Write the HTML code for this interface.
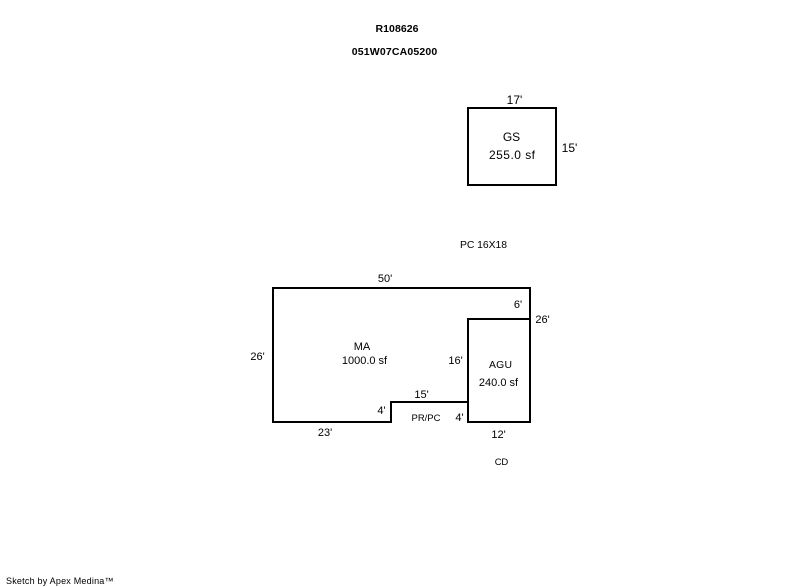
<!DOCTYPE html>
<html>
<head>
<meta charset="utf-8">
<style>
html,body{margin:0;padding:0;background:#fff;width:800px;height:587px;overflow:hidden}
svg{display:block}
text{font-family:"Liberation Sans",Arial,sans-serif;font-size:11px;fill:#000}
.b{font-weight:bold;font-size:10.5px}
.g{font-size:12px}
.m{font-size:10.400px}
.p{font-size:9.500px}
.s{font-size:9px}
.l{fill:none;stroke:#000;stroke-width:2;shape-rendering:crispEdges}
</style>
</head>
<body>
<svg width="800" height="587" viewBox="0 0 800 587" xmlns="http://www.w3.org/2000/svg">
<rect class="l" x="468" y="108" width="88" height="77"/>
<path class="l" d="M468 402H391V422H273V288H530V422H468V319H530"/>
<text class="b" x="397" y="32" text-anchor="middle" textLength="43">R108626</text>
<text class="b" x="394.500" y="55" text-anchor="middle" textLength="85.500">051W07CA05200</text>
<text class="g" x="514.500" y="104" text-anchor="middle">17'</text>
<text class="g" x="511.500" y="141" text-anchor="middle">GS</text>
<text class="g" x="512" y="159" text-anchor="middle" textLength="46">255.0 sf</text>
<text class="g" x="569.500" y="152" text-anchor="middle">15'</text>
<text class="m" x="483.500" y="248" text-anchor="middle" textLength="47">PC 16X18</text>
<text x="385" y="282" text-anchor="middle">50'</text>
<text x="518" y="308" text-anchor="middle">6'</text>
<text x="542.500" y="323" text-anchor="middle">26'</text>
<text x="257.500" y="360" text-anchor="middle">26'</text>
<text x="362" y="350" text-anchor="middle">MA</text>
<text x="364.500" y="364" text-anchor="middle">1000.0 sf</text>
<text x="455.500" y="364" text-anchor="middle">16'</text>
<text class="m" x="500.500" y="368" text-anchor="middle" textLength="23">AGU</text>
<text x="498.500" y="386" text-anchor="middle">240.0 sf</text>
<text x="421.500" y="398" text-anchor="middle">15'</text>
<text x="381.500" y="414" text-anchor="middle">4'</text>
<text x="459.500" y="421" text-anchor="middle">4'</text>
<text class="p" x="426" y="421" text-anchor="middle" textLength="29">PR/PC</text>
<text x="325" y="436" text-anchor="middle">23'</text>
<text x="498.500" y="438" text-anchor="middle">12'</text>
<text class="p" x="501.500" y="465" text-anchor="middle" textLength="13.500">CD</text>
<text class="s" x="6" y="584" textLength="107.500">Sketch by Apex Medina™</text>
</svg>
</body>
</html>
